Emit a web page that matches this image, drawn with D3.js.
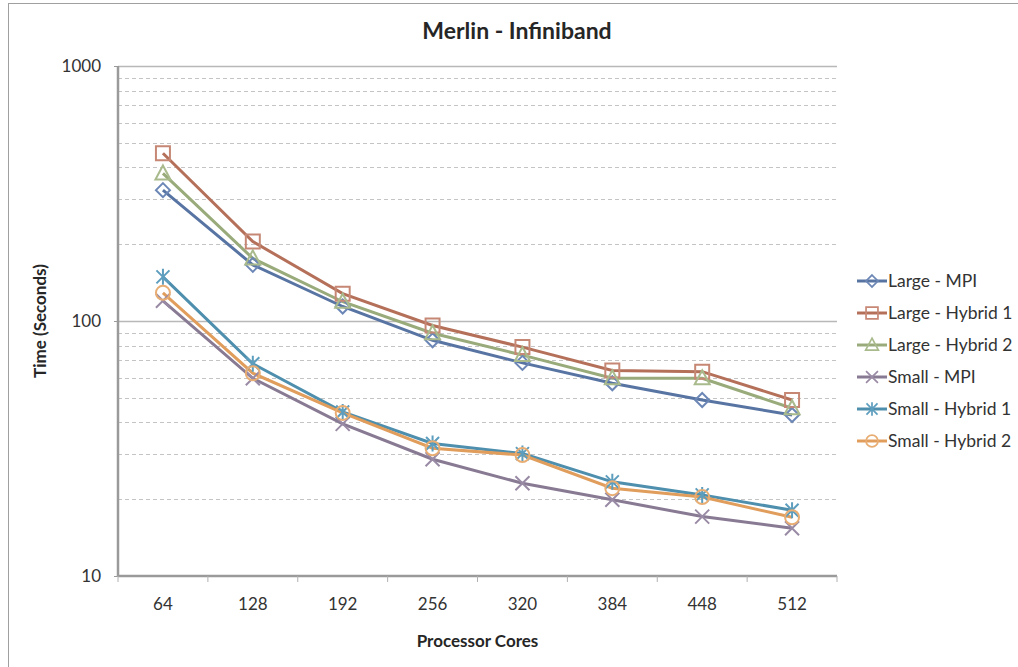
<!DOCTYPE html>
<html>
<head>
<meta charset="utf-8">
<script src="https://cdn.jsdelivr.net/npm/d3@7"></script>
<style>
  body { margin: 0; background: #fff; }
  svg { font-family: Lato, "Open Sans", sans-serif; }
</style>
</head>
<body>
<div id="chart"></div>
<script>
// chart data
var cores = ["64", "128", "192", "256", "320", "384", "448", "512"];
var seriesNames = ["Large - MPI", "Large - Hybrid 1", "Large - Hybrid 2",
    "Small - MPI", "Small - Hybrid 1", "Small - Hybrid 2"];
var largeMPI     = [326, 166, 114, 84, 68.5, 57, 49, 42.8];
var largeHybrid1 = [455, 205, 128, 96, 79, 64, 63.3, 49];
var largeHybrid2 = [379, 176, 119, 89.5, 73.5, 59.6, 59.6, 45.5];
var smallMPI     = [120, 59.6, 39.5, 28.7, 23.1, 19.9, 17.1, 15.4];
var smallHybrid1 = [149, 68, 44, 33.1, 30.2, 23.4, 20.8, 18.1];
var smallHybrid2 = [129, 62.4, 43.6, 31.7, 29.8, 22.1, 20.4, 17];
var yTicks = [10, 100, 1000];

var allValues = [largeMPI, largeHybrid1, largeHybrid2, smallMPI, smallHybrid1, smallHybrid2];
var lineColors = ["#5874a3", "#b5705a", "#99ab7a", "#887a93", "#4f8fae", "#e09d5c"];
var markColors = ["#6c87b6", "#c68875", "#a9ba8c", "#998aa5", "#5d9dbd", "#e8ad73"];
var markers = ["diamond", "square", "triangle", "x", "star", "circle"];

var width = 1018, height = 667;
var margin = {top: 66, left: 118, right: 181, bottom: 91};
var plotW = width - margin.left - margin.right,
    plotH = height - margin.top - margin.bottom;

var svg = d3.select("#chart").append("svg")
    .attr("width", width)
    .attr("height", height);

// outer chart border
svg.append("rect")
    .attr("x", 8.5).attr("y", 3.5)
    .attr("width", 1100).attr("height", 800)
    .attr("fill", "none")
    .attr("stroke", "#a0a0a0");

var g = svg.append("g")
    .attr("transform", "translate(" + margin.left + "," + margin.top + ")");

var x = d3.scaleBand().domain(cores).range([0, plotW]);
var y = d3.scaleLog().domain([10, 1000]).range([plotH, 0]);

// minor dashed gridlines
var minor = [];
[10, 100].forEach(function (d) {
    for (var k = 2; k <= 9; k++) minor.push(d * k);
});
g.selectAll(".minor").data(minor).enter().append("line")
    .attr("x1", 0).attr("x2", plotW)
    .attr("y1", function (d) { return Math.round(y(d)) + 0.5; })
    .attr("y2", function (d) { return Math.round(y(d)) + 0.5; })
    .attr("stroke", "#c4c4c4")
    .attr("stroke-dasharray", "4,3");

// major gridlines
g.selectAll(".major").data(yTicks.slice(1)).enter().append("line")
    .attr("x1", 0).attr("x2", plotW)
    .attr("y1", function (d) { return Math.round(y(d)) + 0.5; })
    .attr("y2", function (d) { return Math.round(y(d)) + 0.5; })
    .attr("stroke", "#b8b8b8")
    .attr("stroke-width", 1.5);

// Y axis
var yAxis = g.append("g")
    .call(d3.axisLeft(y).tickValues(yTicks).tickFormat(d3.format("d")).tickSize(4).tickPadding(13))
    .style("font-family", "Lato, sans-serif")
    .style("font-size", "17px");
yAxis.select(".domain").attr("stroke", "#9a9a9a").attr("stroke-width", 2.5).attr("d", "M0,0V" + plotH);
yAxis.selectAll(".tick line").attr("stroke", "#9a9a9a");
yAxis.selectAll(".tick text").attr("fill", "#333");

// X axis
var xAxis = g.append("g")
    .attr("transform", "translate(0," + plotH + ")")
    .call(d3.axisBottom(x).tickSize(0).tickPadding(22))
    .style("font-family", "Lato, sans-serif")
    .style("font-size", "17px");
xAxis.select(".domain").attr("stroke", "#9a9a9a").attr("stroke-width", 2.5).attr("d", "M0,0H" + plotW);
xAxis.selectAll(".tick text").attr("fill", "#333");
// tick marks at category boundaries
xAxis.selectAll(".bound").data(cores.concat(["end"])).enter().append("line")
    .attr("x1", function (d, i) { return x.step() * i; })
    .attr("x2", function (d, i) { return x.step() * i; })
    .attr("y1", 0).attr("y2", 6)
    .attr("stroke", "#b0b0b0");

// marker shapes
function markerPath(type) {
    if (type === "diamond") return "M0,-7L7,0L0,7L-7,0Z";
    if (type === "square") return "M-7,-7H7V7H-7Z";
    if (type === "triangle") return "M0,-8L7.5,6H-7.5Z";
    if (type === "x") return "M-7,-7L7,7M7,-7L-7,7";
    if (type === "star") return "M-6.5,-6.5L6.5,6.5M6.5,-6.5L-6.5,6.5M0,-8V8";
    return d3.arc()({innerRadius: 0, outerRadius: 7, startAngle: 0, endAngle: 2 * Math.PI});
}

var line = d3.line()
    .x(function (d, i) { return x(cores[i]) + x.bandwidth() / 2; })
    .y(function (d) { return y(d); });

allValues.forEach(function (vals, s) {
    g.append("path")
        .datum(vals)
        .attr("d", line)
        .attr("fill", "none")
        .attr("stroke", lineColors[s])
        .attr("stroke-width", 3);
});
allValues.forEach(function (vals, s) {
    g.selectAll(".m" + s).data(vals).enter().append("path")
        .attr("transform", function (d, i) {
            return "translate(" + (x(cores[i]) + x.bandwidth() / 2) + "," + y(d) + ")";
        })
        .attr("d", markerPath(markers[s]))
        .attr("fill", "none")
        .attr("stroke", markColors[s])
        .attr("stroke-width", 2);
});

// title and axis labels
svg.append("text")
    .attr("x", 517).attr("y", 39)
    .attr("text-anchor", "middle")
    .style("font-size", "23px").style("font-weight", "bold")
    .attr("fill", "#262626")
    .text("Merlin - Infiniband");

svg.append("text")
    .attr("transform", "translate(46," + (margin.top + plotH / 2) + ") rotate(-90)")
    .attr("text-anchor", "middle")
    .style("font-size", "17px").style("font-weight", "bold")
    .attr("fill", "#262626")
    .text("Time (Seconds)");

svg.append("text")
    .attr("x", margin.left + plotW / 2).attr("y", 647)
    .attr("text-anchor", "middle")
    .style("font-size", "17px").style("font-weight", "bold")
    .attr("fill", "#262626")
    .text("Processor Cores");

// legend
var legend = svg.append("g").attr("transform", "translate(857,281)");
seriesNames.forEach(function (name, s) {
    var row = legend.append("g").attr("transform", "translate(0," + (s * 32) + ")");
    row.append("line")
        .attr("x1", 0).attr("x2", 30)
        .attr("stroke", lineColors[s]).attr("stroke-width", 3);
    row.append("path")
        .attr("transform", "translate(15,0) scale(0.85)")
        .attr("d", markerPath(markers[s]))
        .attr("fill", "none")
        .attr("stroke", markColors[s])
        .attr("stroke-width", 2);
    row.append("text")
        .attr("x", 31).attr("y", 6)
        .style("font-size", "17.5px")
        .attr("fill", "#333")
        .text(name);
});
</script>
</body>
</html>
